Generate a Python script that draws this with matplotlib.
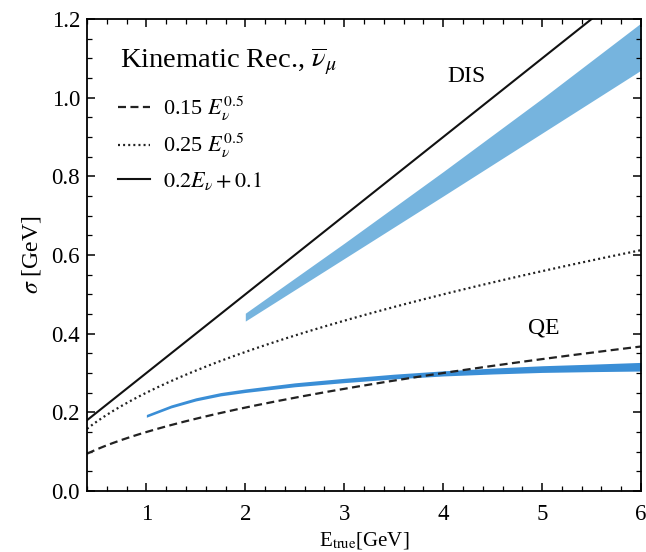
import matplotlib
matplotlib.use('Agg')

import matplotlib.pyplot as plt
import numpy as np
from matplotlib.ticker import MultipleLocator, FormatStrFormatter

plt.rcParams['font.family'] = ['Liberation Serif', 'DejaVu Serif']
plt.rcParams['mathtext.fontset'] = 'stix'

# reference curves
e_ref = np.linspace(0.4, 6.0, 200)
coef_dash = 0.15
coef_dot = 0.25
slope_lin, icpt_lin = 0.2, 0.1

# DIS band
dis_e = [2.0, 3.0, 4.0, 5.0, 6.0]
dis_lo = [0.432, 0.591, 0.750, 0.910, 1.070]
dis_hi = [0.452, 0.630, 0.812, 0.998, 1.190]

# QE band
qe_e = [1.0, 1.25, 1.5, 1.75, 2.0, 2.5, 3.0, 3.5, 4.0, 4.5, 5.0, 5.5, 6.0]
qe_lo = [0.1875, 0.2113, 0.229, 0.2418, 0.2505, 0.265, 0.2755, 0.285, 0.2925, 0.2975, 0.3015, 0.3035, 0.305]
qe_hi = [0.1945, 0.2188, 0.237, 0.2503, 0.2595, 0.275, 0.2865, 0.297, 0.3055, 0.3125, 0.3185, 0.3225, 0.327]

fig = plt.figure(figsize=(6.46, 5.52), dpi=100)
ax = fig.add_axes([0.1347, 0.1105, 0.8576, 0.855])

ax.fill_between(dis_e, dis_lo, dis_hi, color='#76b4de', lw=0)
ax.fill_between(qe_e, qe_lo, qe_hi, color='#3a8ed6', lw=0)

l1, = ax.plot(e_ref, coef_dash * np.sqrt(e_ref), color='#222222', lw=1.6, ls=(0, (3.6, 2)))
l2, = ax.plot(e_ref, coef_dot * np.sqrt(e_ref), color='#222222', lw=1.6, ls=(0, (0.9, 1.4)))
l3, = ax.plot(e_ref, slope_lin * e_ref + icpt_lin, color='#111111', lw=1.5)

ax.legend([l1, l2, l3],
          [r'0.15 $E_\nu^{0.5}$', r'0.25 $E_\nu^{0.5}$', r'$0.2E_\nu + 0.1$'],
          loc='upper left', bbox_to_anchor=(0.04, 0.86), frameon=False,
          fontsize=16, handlelength=1.45, labelspacing=0.42, handletextpad=0.55,
          borderaxespad=0)

ax.text(0.0596, 0.8985, r'Kinematic Rec., $\overline{\nu}_\mu$', transform=ax.transAxes,
        fontsize=20.5, va='baseline', ha='left')
ax.text(4.04, 1.055, 'DIS', fontsize=17, ha='left', va='center')
ax.text(4.86, 0.415, 'QE', fontsize=17, ha='left', va='center')

ax.set_xlim(0.4, 6.0)
ax.set_ylim(0.0, 1.2)
ax.xaxis.set_major_locator(MultipleLocator(1))
ax.xaxis.set_minor_locator(MultipleLocator(0.2))
ax.yaxis.set_major_locator(MultipleLocator(0.2))
ax.yaxis.set_minor_locator(MultipleLocator(0.05))
ax.yaxis.set_major_formatter(FormatStrFormatter('%.1f'))
ax.tick_params(which='both', direction='in', top=True, right=True, labelsize=16.5)
ax.tick_params(which='major', length=6, width=1.1)
ax.tick_params(which='minor', length=3.5, width=0.9)
ax.tick_params(axis='x', which='major', pad=9)
ax.tick_params(axis='y', which='major', pad=5)
for s in ax.spines.values():
    s.set_linewidth(1.3)

ax.set_xlabel(r'E$_{\rm true}$[GeV]', fontsize=15, labelpad=4)
ax.set_ylabel(r'$\sigma$ [GeV]', fontsize=17, labelpad=6)

plt.savefig('out.png', dpi=100)
plt.close()
